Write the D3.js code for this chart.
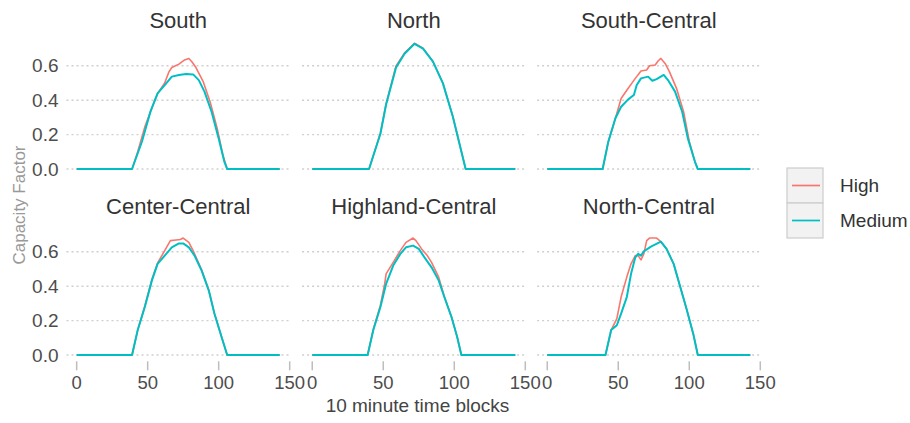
<!DOCTYPE html>
<html>
<head>
<meta charset="utf-8">
<script src="https://d3js.org/d3.v7.min.js"></script>
<style>
  body { margin: 0; background: #fff; }
  text { font-family: "Liberation Sans", Arial, sans-serif; }
</style>
</head>
<body>
<script type="text/javascript">
// regions in facet order, levels for the legend
var regions = ["South", "North", "South-Central", "Center-Central", "Highland-Central", "North-Central"];
var levels = ["High", "Medium"];
var xTicks = [0, 50, 100, 150];
var yTicks = [0, 0.2, 0.4, 0.6];

// [10 minute block, capacity factor]
var southHigh = [[0,0],[39,0],[43,0.10],[48,0.245],[53,0.355],[57,0.44],[62,0.50],[65,0.565],[67,0.59],[72,0.61],[76,0.634],[79,0.643],[81,0.625],[84,0.59],[89,0.51],[94,0.39],[99,0.235],[103,0.08],[106,0],[143,0]];
var southMedium = [[0,0],[39,0],[46,0.16],[52,0.335],[57,0.44],[62,0.488],[67,0.537],[72,0.547],[77,0.552],[82,0.55],[86,0.517],[90,0.45],[95,0.333],[100,0.178],[104,0.042],[106,0],[143,0]];
var northHigh = [[0,0],[40,0],[48,0.21],[52,0.38],[59,0.60],[65,0.675],[72,0.731],[78,0.703],[85,0.625],[92,0.50],[99,0.305],[108,0],[143,0]];
var northMedium = [[0,0],[40,0],[48,0.205],[52,0.375],[59,0.59],[65,0.67],[72,0.728],[78,0.70],[85,0.624],[92,0.498],[99,0.304],[108,0],[143,0]];
var southCentralHigh = [[0,0],[39,0],[43,0.16],[48,0.295],[52,0.41],[57,0.47],[62,0.527],[66,0.57],[70,0.576],[72,0.60],[76,0.605],[78,0.628],[80,0.643],[83,0.614],[86,0.566],[91,0.469],[96,0.333],[100,0.16],[104,0.042],[106,0],[143,0]];
var southCentralMedium = [[0,0],[39,0],[43,0.159],[48,0.295],[52,0.362],[57,0.405],[61,0.43],[63,0.488],[66,0.527],[71,0.537],[74,0.513],[77,0.523],[82,0.547],[85,0.517],[90,0.45],[95,0.333],[99,0.178],[104,0.042],[106,0],[143,0]];
var centerCentralHigh = [[0,0],[39,0],[43,0.145],[48,0.285],[53,0.44],[57,0.535],[62,0.607],[66,0.665],[70,0.669],[73,0.672],[75,0.68],[79,0.655],[82,0.607],[88,0.495],[93,0.378],[97,0.241],[102,0.106],[106,0],[143,0]];
var centerCentralMedium = [[0,0],[39,0],[43,0.145],[48,0.279],[53,0.434],[57,0.53],[62,0.578],[67,0.626],[72,0.649],[75,0.649],[79,0.626],[83,0.578],[88,0.491],[93,0.376],[97,0.241],[102,0.106],[106,0],[143,0]];
var highlandCentralHigh = [[0,0],[39,0],[43,0.15],[48,0.29],[51,0.414],[52,0.472],[57,0.539],[62,0.607],[66,0.655],[71,0.68],[73,0.665],[77,0.617],[81,0.578],[84,0.539],[89,0.453],[93,0.34],[98,0.222],[102,0.106],[105,0],[143,0]];
var highlandCentralMedium = [[0,0],[39,0],[43,0.145],[48,0.279],[52,0.414],[57,0.52],[62,0.588],[66,0.626],[71,0.636],[75,0.617],[79,0.568],[84,0.51],[89,0.434],[93,0.337],[98,0.222],[102,0.106],[105,0],[143,0]];
var northCentralHigh = [[0,0],[41,0],[45,0.145],[49,0.212],[52,0.337],[56,0.453],[59,0.53],[62,0.578],[64,0.578],[66,0.553],[68,0.588],[70,0.665],[72,0.68],[77,0.68],[80,0.659],[84,0.617],[89,0.53],[93,0.414],[98,0.27],[103,0.116],[106,0],[143,0]];
var northCentralMedium = [[0,0],[41,0],[45,0.145],[49,0.173],[52,0.241],[56,0.337],[59,0.472],[62,0.568],[64,0.588],[66,0.578],[68,0.603],[73,0.63],[80,0.659],[84,0.617],[89,0.53],[93,0.414],[98,0.27],[103,0.116],[106,0],[143,0]];

var seriesByRegion = [
  [southHigh, southMedium],
  [northHigh, northMedium],
  [southCentralHigh, southCentralMedium],
  [centerCentralHigh, centerCentralMedium],
  [highlandCentralHigh, highlandCentralMedium],
  [northCentralHigh, northCentralMedium]
];

var colors = d3.scaleOrdinal().domain(levels).range(["#F8766D", "#00BFC4"]);

var width = 910, height = 423;
var panelW = 223.4, panelH = 138.3;
var colLeft = [66.5, 302.1, 537.1];
var rowTop = [37, 223];

var svg = d3.select("body")
  .append("svg")
  .attr("width", width)
  .attr("height", height);

// shared scales, ggplot style 5% expansion
var allPts = d3.merge(d3.merge(seriesByRegion));
var xExt = d3.extent(allPts, function(d) { return d[0]; });
var yExt = [0, d3.max(allPts, function(d) { return d[1]; })];
var xPad = (xExt[1] - xExt[0]) * 0.05, yPad = (yExt[1] - yExt[0]) * 0.05;

var x = d3.scaleLinear().domain([xExt[0] - xPad, xExt[1] + xPad]).range([0, panelW]);
var y = d3.scaleLinear().domain([yExt[0] - yPad, yExt[1] + yPad]).range([panelH, 0]);

var line = d3.line()
  .x(function(d) { return x(d[0]); })
  .y(function(d) { return y(d[1]); });

regions.forEach(function(name, i) {
  var col = i % 3, row = Math.floor(i / 3);
  var g = svg.append("g")
    .attr("transform", "translate(" + colLeft[col] + "," + rowTop[row] + ")");

  // dotted horizontal grid
  g.selectAll(".grid")
    .data(yTicks)
    .enter().append("line")
    .attr("x1", 0)
    .attr("x2", panelW)
    .attr("y1", function(d) { return y(d); })
    .attr("y2", function(d) { return y(d); })
    .style("stroke", "#cfcfcf")
    .style("stroke-width", 1.4)
    .style("stroke-dasharray", "2,3");

  // strip title
  g.append("text")
    .attr("x", panelW / 2)
    .attr("y", -9)
    .attr("text-anchor", "middle")
    .attr("font-size", "22px")
    .attr("fill", "#333")
    .text(name);

  // lines, High under Medium
  seriesByRegion[i].forEach(function(s, j) {
    g.append("path")
      .datum(s)
      .attr("d", line)
      .style("fill", "none")
      .style("stroke", colors(levels[j]))
      .style("stroke-width", j === 0 ? 1.6 : 2)
      .style("stroke-linejoin", "round");
  });

  // y tick labels on first column
  if (col === 0) {
    g.selectAll(".ylab")
      .data(yTicks)
      .enter().append("text")
      .attr("x", -8)
      .attr("y", function(d) { return y(d); })
      .attr("dy", "0.35em")
      .attr("text-anchor", "end")
      .attr("font-size", "19px")
      .attr("fill", "#4d4d4d")
      .text(d3.format(".1f"));
  }

  // x ticks on bottom row
  if (row === 1) {
    var ax = g.append("g").attr("transform", "translate(0," + panelH + ")");
    ax.selectAll(".tick")
      .data(xTicks)
      .enter().append("line")
      .attr("x1", function(d) { return x(d); })
      .attr("x2", function(d) { return x(d); })
      .attr("y1", 0)
      .attr("y2", 9)
      .style("stroke", "#bdbdbd")
      .style("stroke-width", 1.5);
    ax.selectAll(".xlab")
      .data(xTicks)
      .enter().append("text")
      .attr("x", function(d) { return x(d); })
      .attr("y", 28)
      .attr("text-anchor", "middle")
      .attr("font-size", "18.5px")
      .attr("fill", "#4d4d4d")
      .text(function(d) { return d; });
  }
});

// axis titles
svg.append("text")
  .attr("x", (colLeft[0] + colLeft[2] + panelW) / 2 + 4)
  .attr("y", 412)
  .attr("text-anchor", "middle")
  .attr("font-size", "19px")
  .attr("fill", "#444")
  .text("10 minute time blocks");

svg.append("text")
  .attr("transform", "translate(25,205) rotate(-90)")
  .attr("text-anchor", "middle")
  .attr("font-size", "17px")
  .attr("fill", "#999")
  .text("Capacity Factor");

// legend
var leg = svg.append("g").attr("transform", "translate(787,168)");
levels.forEach(function(lv, i) {
  leg.append("rect")
    .attr("x", 0)
    .attr("y", i * 35)
    .attr("width", 36)
    .attr("height", 35)
    .style("fill", "#f2f2f2")
    .style("stroke", "#cccccc")
    .style("stroke-width", 1.2);
  leg.append("line")
    .attr("x1", 5)
    .attr("x2", 33)
    .attr("y1", i * 35 + 17.5)
    .attr("y2", i * 35 + 17.5)
    .style("stroke", colors(lv))
    .style("stroke-width", 1.7);
  leg.append("text")
    .attr("x", 53)
    .attr("y", i * 35 + 17.5)
    .attr("dy", "0.35em")
    .attr("font-size", "19px")
    .attr("fill", "#333")
    .text(lv);
});
</script>
</body>
</html>
